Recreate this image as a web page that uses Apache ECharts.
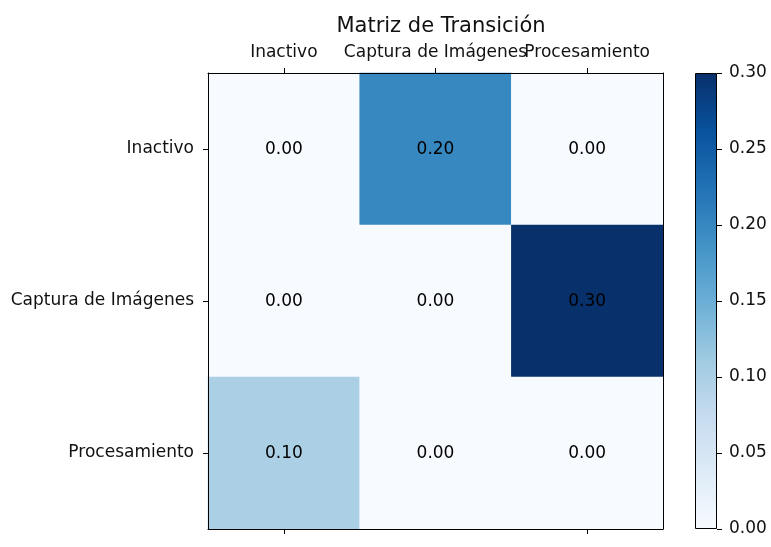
<!DOCTYPE html>
<html>
<head>
<meta charset="utf-8">
<title>Matriz de Transición</title>
<script src="https://cdn.jsdelivr.net/npm/echarts@6/dist/echarts.min.js"></script>
<style>
    html, body { margin: 0; padding: 0; background: #fff; }
    #chart { width: 771px; height: 547px; }
</style>
</head>
<body>
<div id="chart"></div>
<script>
    // estados de la matriz
    const estados = ['Inactivo', 'Captura de Imágenes', 'Procesamiento'];
    // probabilidades por fila (origen)
    const filaInactivo = [0.00, 0.20, 0.00];
    const filaCaptura = [0.00, 0.00, 0.30];
    const filaProcesamiento = [0.10, 0.00, 0.00];
    const colorTicks = [0.00, 0.05, 0.10, 0.15, 0.20, 0.25, 0.30];
    // colormap Blues de matplotlib
    const blues = ['#f7fbff', '#deebf7', '#c6dbef', '#9ecae1', '#6baed6', '#4292c6', '#2171b5', '#08519c', '#08306b'];

    const filas = [filaInactivo, filaCaptura, filaProcesamiento];
    const heatData = [];
    filas.forEach((fila, i) => {
        fila.forEach((v, j) => {
            heatData.push([j, i, v]);
        });
    });

    const fuente = 'DejaVu Sans';
    const tam = 17;
    const chart = echarts.init(document.getElementById('chart'));
    const option = {
        animation: false,
        textStyle: { fontFamily: fuente },
        title: {
            text: 'Matriz de Transición',
            left: 436,
            textAlign: 'center',
            top: 11,
            textStyle: { fontFamily: fuente, fontSize: 21, fontWeight: 'normal', color: '#111' }
        },
        grid: [
            { left: 208, top: 73, width: 455, height: 456 },
            { left: 695, top: 73, width: 22, height: 456 }
        ],
        xAxis: [
            {
                type: 'category', data: estados, position: 'top', gridIndex: 0, z: 10,
                axisLine: { show: true, lineStyle: { color: '#000', width: 1 } },
                axisTick: { show: true, alignWithLabel: true, length: 5, lineStyle: { color: '#000' } },
                axisLabel: { fontFamily: fuente, fontSize: tam, color: '#111', margin: 12, interval: 0 },
                splitLine: { show: false }
            },
            {
                type: 'category', data: estados, position: 'bottom', gridIndex: 0, z: 10,
                axisLine: { show: true, lineStyle: { color: '#000', width: 1 } },
                axisTick: { show: true, alignWithLabel: true, length: 5, lineStyle: { color: '#000' } },
                axisLabel: { show: false },
                splitLine: { show: false }
            },
            {
                type: 'category', data: [''], gridIndex: 1,
                axisLine: { show: false }, axisTick: { show: false }, axisLabel: { show: false }
            }
        ],
        yAxis: [
            {
                type: 'category', data: estados, inverse: true, position: 'left', gridIndex: 0, z: 10,
                axisLine: { show: true, lineStyle: { color: '#000', width: 1 } },
                axisTick: { show: true, alignWithLabel: true, length: 5, lineStyle: { color: '#000' } },
                axisLabel: { fontFamily: fuente, fontSize: tam, color: '#111', margin: 14 },
                splitLine: { show: false }
            },
            {
                type: 'category', data: estados, inverse: true, position: 'right', gridIndex: 0, z: 10,
                axisLine: { show: true, lineStyle: { color: '#000', width: 1 } },
                axisTick: { show: false }, axisLabel: { show: false },
                splitLine: { show: false }
            },
            {
                type: 'value', gridIndex: 1, position: 'right', min: 0, max: 0.3, interval: 0.05,
                axisLine: { show: false },
                axisTick: { show: true, length: 5, lineStyle: { color: '#000' } },
                axisLabel: {
                    fontFamily: fuente, fontSize: tam, color: '#111', margin: 12,
                    formatter: v => v.toFixed(2)
                },
                splitLine: { show: false }
            }
        ],
        visualMap: {
            show: false,
            min: colorTicks[0],
            max: colorTicks[colorTicks.length - 1],
            seriesIndex: 0,
            dimension: 2,
            inRange: { color: blues }
        },
        series: [
            {
                type: 'heatmap',
                xAxisIndex: 0,
                yAxisIndex: 0,
                data: heatData,
                label: {
                    show: true,
                    fontFamily: fuente,
                    fontSize: tam,
                    color: '#000',
                    offset: [0, 1],
                    formatter: p => p.value[2].toFixed(2)
                }
            },
            {
                // barra de color
                type: 'bar',
                xAxisIndex: 2,
                yAxisIndex: 2,
                barWidth: '100%',
                data: [colorTicks[colorTicks.length - 1]],
                itemStyle: {
                    borderColor: '#000',
                    borderWidth: 1,
                    color: new echarts.graphic.LinearGradient(0, 1, 0, 0,
                        blues.map((c, i) => ({ offset: i / (blues.length - 1), color: c })))
                }
            }
        ]
    };
    chart.setOption(option);
</script>
</body>
</html>
